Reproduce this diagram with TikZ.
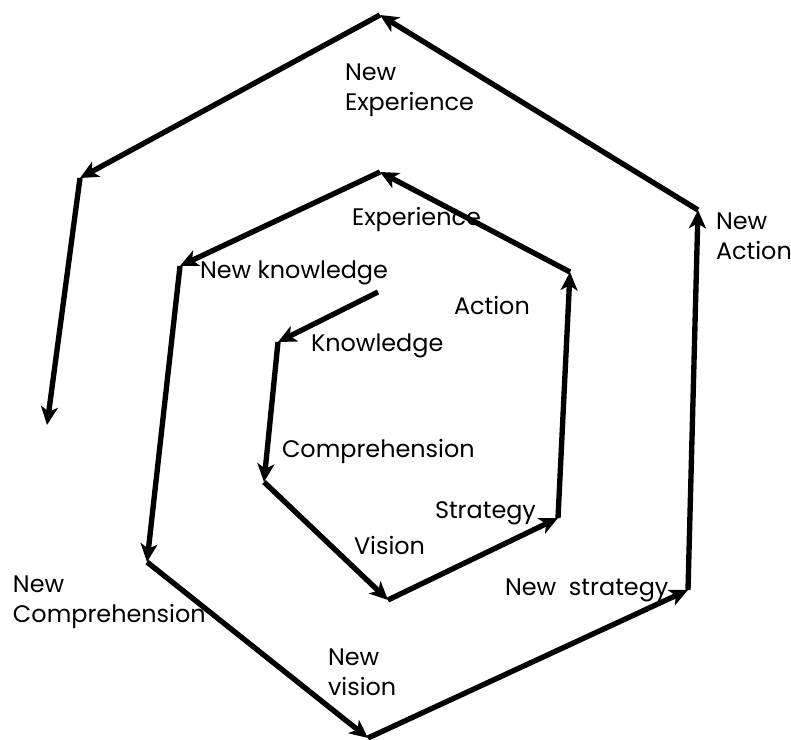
\documentclass[tikz,border=0pt]{standalone}
\usepackage{fontspec}
\setmainfont{Poppins}
\usetikzlibrary{arrows.meta}
\begin{document}
\begin{tikzpicture}[x=0.025cm,y=-0.025cm,inner sep=0pt,outer sep=0pt,
line width=3.8pt,
step arrow/.style={-{Stealth[length=13pt,width=12pt,inset=3.5pt]}},
lbl/.style={anchor=base west,font=\fontsize{17}{22}\selectfont,align=left}]

\useasboundingbox (0,0) rectangle (791,740);

% spiral corners
\coordinate (s0) at (378,292);
\coordinate (s1) at (278,342);
\coordinate (s2) at (264,482);
\coordinate (s3) at (388,600);
\coordinate (s4) at (558,518);
\coordinate (s5) at (570,272);
\coordinate (s6) at (380,172);
\coordinate (s7) at (180,266);
\coordinate (s8) at (147,562);
\coordinate (s9) at (368,738);
\coordinate (s10) at (688,590);
\coordinate (s11) at (698,210);
\coordinate (s12) at (380,15);
\coordinate (s13) at (80,178);
\coordinate (s14) at (47,425);

\foreach \a/\b in {s0/s1,s1/s2,s2/s3,s3/s4,s4/s5,s5/s6,s6/s7,
                   s7/s8,s8/s9,s9/s10,s10/s11,s11/s12,s12/s13,s13/s14}
  \draw[step arrow] (\a) -- (\b);

% labels (base of last line)
\node[lbl] (knowledge) at (311,352) {Knowledge};
\node[lbl] (comprehension) at (282,458) {Comprehension};
\node[lbl] (vision) at (354,555) {Vision};
\node[lbl] (strategy) at (435,519) {Strategy};
\node[lbl] (action) at (454,315) {Action};
\node[lbl] (experience) at (352,226) {Experience};
\node[lbl] (newknowledge) at (200,279) {New knowledge};
\node[lbl] (newcomprehension) at (13,623) {New\\Comprehension};
\node[lbl] (newvision) at (328,696) {New\\vision};
\node[lbl] (newstrategy) at (505,596) {New\ \ strategy};
\node[lbl] (newaction) at (716,260) {New\\Action};
\node[lbl] (newexperience) at (345,111) {New\\Experience};
\end{tikzpicture}
\end{document}
